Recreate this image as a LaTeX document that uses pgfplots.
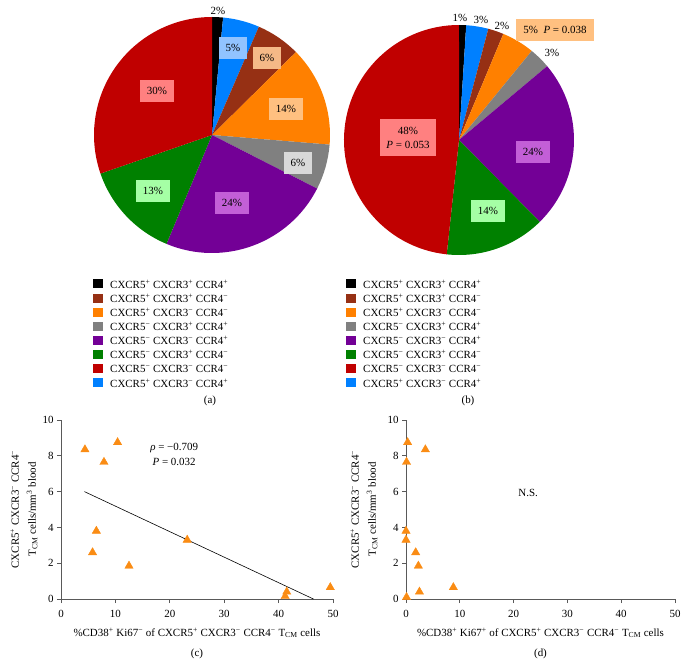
\documentclass[border=0pt]{standalone}
\usepackage{pgfplots}
\pgfplotsset{compat=1.18}
\usepackage{fontspec}
\setmainfont{Liberation Serif}

\definecolor{cBlack}{RGB}{0,0,0}
\definecolor{cBrown}{RGB}{150,48,20}
\definecolor{cOrange}{RGB}{255,128,0}
\definecolor{cGray}{RGB}{128,128,128}
\definecolor{cPurple}{RGB}{115,0,150}
\definecolor{cGreen}{RGB}{0,128,0}
\definecolor{cRed}{RGB}{192,0,0}
\definecolor{cBlue}{RGB}{0,128,255}
\definecolor{lBlue}{RGB}{145,195,255}
\definecolor{lPeach}{RGB}{245,185,135}
\definecolor{lOrange}{RGB}{255,192,128}
\definecolor{lGray}{RGB}{217,217,217}
\definecolor{lPurple}{RGB}{195,95,215}
\definecolor{lGreen}{RGB}{165,255,165}
\definecolor{lRed}{RGB}{255,128,128}
\definecolor{scat}{RGB}{250,140,20}

\newcommand\fs{\fontsize{11}{13}\selectfont}
% cx cy r start(%) end(%) colour
\newcommand\slice[6]{%
  \fill[#6] (axis cs:#1,#2) -- (axis cs:{#1+#3*cos(90-3.6*#4)},{#2+#3*sin(90-3.6*#4)})
    arc[start angle={90-3.6*#4}, end angle={90-3.6*#5}, radius=#3bp] -- cycle;}
\newcommand\lab[4]{\node[fill=#3, inner xsep=7bp, minimum height=22bp, font=\fs, align=center] at (axis cs:#1,#2) {#4};}
\newcommand\legrow[4]{%
  \fill[#3] (axis cs:#1,{#2-4.5}) rectangle (axis cs:{#1+9.5},{#2+4.5});
  \node[anchor=west, font=\fs, inner sep=0pt] at (axis cs:{#1+17},{#2}) {#4};}
\newcommand\pielegend[2]{%
  \legrow{#1}{#2}{cBlack}{CXCR5\textsuperscript{+} CXCR3\textsuperscript{+} CCR4\textsuperscript{+}}
  \legrow{#1}{#2-14.14}{cBrown}{CXCR5\textsuperscript{+} CXCR3\textsuperscript{+} CCR4\textsuperscript{−}}
  \legrow{#1}{#2-28.28}{cOrange}{CXCR5\textsuperscript{+} CXCR3\textsuperscript{−} CCR4\textsuperscript{−}}
  \legrow{#1}{#2-42.42}{cGray}{CXCR5\textsuperscript{−} CXCR3\textsuperscript{+} CCR4\textsuperscript{+}}
  \legrow{#1}{#2-56.56}{cPurple}{CXCR5\textsuperscript{−} CXCR3\textsuperscript{−} CCR4\textsuperscript{+}}
  \legrow{#1}{#2-70.7}{cGreen}{CXCR5\textsuperscript{−} CXCR3\textsuperscript{+} CCR4\textsuperscript{−}}
  \legrow{#1}{#2-84.84}{cRed}{CXCR5\textsuperscript{−} CXCR3\textsuperscript{−} CCR4\textsuperscript{−}}
  \legrow{#1}{#2-98.98}{cBlue}{CXCR5\textsuperscript{+} CXCR3\textsuperscript{−} CCR4\textsuperscript{+}}}

\pgfplotsset{scat/.style={
  scale only axis, height=179bp,
  xmin=0, xmax=50, ymin=0, ymax=10,
  axis lines=left, axis line style={-, draw=black!65, line width=0.8pt},
  xtick={0,10,...,50}, ytick={0,2,...,10},
  tick align=outside, major tick length=4bp,
  tick style={draw=black!65, line width=0.8pt},
  ticklabel style={font=\fs},
  xticklabel style={yshift=-4bp},
  /pgf/number format/assume math mode=true,
  label style={font=\fs},
  xlabel style={at={(axis description cs:0.5,0)}, yshift=-34bp, anchor=center},
  clip=false,
}}

\begin{document}
\begin{tikzpicture}
% ---------- pie charts (a) and (b) ----------
\begin{axis}[at={(0,0)}, anchor=south west, x=1bp, y=1bp, scale only axis,
  xmin=0, xmax=687, ymin=0, ymax=665, hide axis, clip=false]
% (a): percentages cumulated clockwise from top
\slice{212}{530}{118}{0}{1.5}{cBlack}
\slice{212}{530}{118}{1.5}{6.5}{cBlue}
\slice{212}{530}{118}{6.5}{12.6}{cBrown}
\slice{212}{530}{118}{12.6}{26.3}{cOrange}
\slice{212}{530}{118}{26.3}{32.5}{cGray}
\slice{212}{530}{118}{32.5}{56.3}{cPurple}
\slice{212}{530}{118}{56.3}{69.7}{cGreen}
\slice{212}{530}{118}{69.7}{100}{cRed}
\node[font=\fs] at (axis cs:218,654) {2\%};
\lab{233}{617}{lBlue}{5\%}
\lab{267}{607}{lPeach}{6\%}
\lab{286}{556}{lOrange}{14\%}
\lab{298}{502}{lGray}{6\%}
\lab{232}{462}{lPurple}{24\%}
\lab{153}{474}{lGreen}{13\%}
\lab{157}{574}{lRed}{30\%}
% (b)
\slice{459}{525}{115}{0}{1}{cBlack}
\slice{459}{525}{115}{1}{4.1}{cBlue}
\slice{459}{525}{115}{4.1}{6.3}{cBrown}
\slice{459}{525}{115}{6.3}{10.9}{cOrange}
\slice{459}{525}{115}{10.9}{13.9}{cGray}
\slice{459}{525}{115}{13.9}{37.6}{cPurple}
\slice{459}{525}{115}{37.6}{51.7}{cGreen}
\slice{459}{525}{115}{51.7}{100}{cRed}
\node[font=\fs] at (axis cs:460,647) {1\%};
\node[font=\fs] at (axis cs:481,645) {3\%};
\node[font=\fs] at (axis cs:502,639) {2\%};
\node[font=\fs] at (axis cs:552,612) {3\%};
\lab{555}{635}{lOrange}{5\%\enspace\textit{P} = 0.038}
\node[fill=lRed, minimum width=56bp, minimum height=37bp, font=\fontsize{11}{14}\selectfont, align=center] at (axis cs:408,527) {48\%\\\textit{P} = 0.053};
\lab{533}{513}{lPurple}{24\%}
\lab{488}{454}{lGreen}{14\%}
% legends
\pielegend{93}{381}
\pielegend{346}{381}
\node[font=\fs] at (axis cs:210,264) {(a)};
\node[font=\fs] at (axis cs:468,264) {(b)};
\end{axis}

% ---------- scatter (c) ----------
\begin{axis}[scat, width=272bp, at={(61bp,66bp)}, anchor=south west,
  ylabel style={at={(axis description cs:-0.136,0.5)}, anchor=center, align=center, font=\fontsize{11}{17}\selectfont},
  ylabel={CXCR5\textsuperscript{+} CXCR3\textsuperscript{−} CCR4\textsuperscript{−}\\T\textsubscript{CM} cells/mm\textsuperscript{3} blood},
  xlabel={\%CD38\textsuperscript{+} Ki67\textsuperscript{−} of CXCR5\textsuperscript{+} CXCR3\textsuperscript{−} CCR4\textsuperscript{−} T\textsubscript{CM} cells}]
\addplot[black, line width=0.6pt] coordinates {(4.3,6.0) (46.4,0)};
\addplot[only marks, mark=triangle*, mark size=4.8bp, color=scat] coordinates {
  (4.4,8.35) (10.4,8.75) (7.9,7.65) (6.5,3.8) (5.8,2.6)
  (12.5,1.85) (23.2,3.3) (41.5,0.4) (41.2,0.15) (49.5,0.65)};
\node[font=\fs] at (axis cs:20.8,8.44) {\textit{ρ} = −0.709};
\node[font=\fs] at (axis cs:20.8,7.65) {\textit{P} = 0.032};
\node[font=\fs] at (axis description cs:0.5,0) [yshift=-55bp] {(c)};
\end{axis}

% ---------- scatter (d) ----------
\begin{axis}[scat, width=269bp, at={(406bp,66bp)}, anchor=south west,
  ylabel style={at={(axis description cs:-0.156,0.5)}, anchor=center, align=center, font=\fontsize{11}{17}\selectfont},
  ylabel={CXCR5\textsuperscript{+} CXCR3\textsuperscript{−} CCR4\textsuperscript{−}\\T\textsubscript{CM} cells/mm\textsuperscript{3} blood},
  xlabel={\%CD38\textsuperscript{+} Ki67\textsuperscript{+} of CXCR5\textsuperscript{+} CXCR3\textsuperscript{−} CCR4\textsuperscript{−} T\textsubscript{CM} cells}]
\addplot[only marks, mark=triangle*, mark size=4.8bp, color=scat] coordinates {
  (0.3,8.75) (3.6,8.35) (0.1,7.65) (0.0,3.8) (0.0,3.3)
  (1.8,2.6) (2.3,1.85) (2.5,0.4) (8.8,0.65) (0.1,0.1)};
\node[font=\fs] at (axis cs:22.7,5.9) {N.S.};
\node[font=\fs] at (axis description cs:0.5,0) [yshift=-55bp] {(d)};
\end{axis}
\pgfresetboundingbox
\useasboundingbox (0,0) rectangle (687bp,665bp);
\end{tikzpicture}
\end{document}
